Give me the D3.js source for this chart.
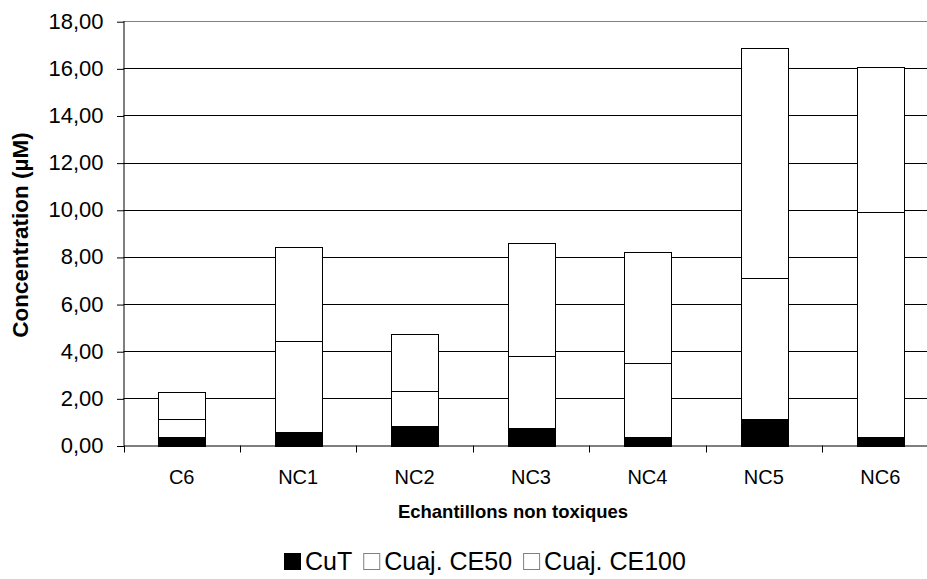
<!DOCTYPE html>
<html>
<head>
<meta charset="utf-8">
<script src="https://cdn.jsdelivr.net/npm/d3@7"></script>
<style>
  html, body { margin: 0; padding: 0; background: #fff; }
  svg { display: block; font-family: "Liberation Sans", Arial, sans-serif; }
</style>
</head>
<body>
<svg id="chart" width="927" height="579"></svg>
<script>
const categories = ["C6", "NC1", "NC2", "NC3", "NC4", "NC5", "NC6"];
const seriesNames = ["CuT", "Cuaj. CE50", "Cuaj. CE100"];
const cuT      = [0.35, 0.57, 0.82, 0.74, 0.38, 1.12, 0.34];
const cuajCE50 = [0.76, 3.88, 1.50, 3.06, 3.11, 5.98, 9.56];
const cuajCE100= [1.18, 3.98, 2.42, 4.80, 4.74, 9.75, 6.17];
const yTicks = [0, 2, 4, 6, 8, 10, 12, 14, 16, 18];
const seriesFill = ["#000000", "#ffffff", "#ffffff"];

const svg = d3.select("#chart");
const pLeft = 123.5, pRight = 938.5, pTop = 21.2, pBottom = 445.5;

const x = d3.scaleBand().domain(categories).range([pLeft, pRight])
  .paddingInner(0.6).paddingOuter(0.3);
const y = d3.scaleLinear().domain([0, 18]).range([pBottom, pTop]);

const rows = categories.map((c, i) => ({cat: c, s0: cuT[i], s1: cuajCE50[i], s2: cuajCE100[i]}));
const stacked = d3.stack().keys(["s0", "s1", "s2"])(rows);

// gridlines
svg.append("g").selectAll("line").data(yTicks.filter(d => d > 0)).join("line")
  .attr("x1", pLeft).attr("x2", pRight)
  .attr("y1", d => Math.round(y(d)) + 0.5).attr("y2", d => Math.round(y(d)) + 0.5)
  .attr("stroke", d => d === 18 ? "#808080" : "#000").attr("stroke-width", 1);

// bars
svg.append("g").selectAll("g").data(stacked).join("g")
  .attr("fill", (d, i) => seriesFill[i])
  .selectAll("rect").data(d => d).join("rect")
  .attr("x", d => Math.round(x(d.data.cat)) + 0.5)
  .attr("y", d => Math.round(y(d[1])) + 0.5)
  .attr("width", Math.round(x.bandwidth()))
  .attr("height", d => Math.max(0, Math.round(y(d[0])) - Math.round(y(d[1]))))
  .attr("stroke", "#000").attr("stroke-width", 1);

// y axis
const yAxis = d3.axisLeft(y).tickValues(yTicks).tickSize(7).tickPadding(13)
  .tickFormat(d => d3.format(".2f")(d).replace(".", ","));
const gy = svg.append("g").attr("transform", `translate(${pLeft},0)`).call(yAxis);
gy.select(".domain").attr("d", `M0.5,${pTop}V${pBottom}`).attr("stroke", "#000");
gy.selectAll(".tick line").attr("stroke", "#000").attr("transform", "translate(0.5,0.5)");
gy.selectAll(".tick text").attr("font-size", 22).attr("fill", "#000")
  .attr("font-family", "Liberation Sans, Arial, sans-serif");

// x axis
const gx = svg.append("g").attr("transform", `translate(0,${pBottom})`);
gx.append("line").attr("x1", pLeft).attr("x2", pRight).attr("y1", 0.5).attr("y2", 0.5).attr("stroke", "#000");
const step = x.step();
const bounds = d3.range(categories.length + 1).map(i => pLeft + i * step);
gx.selectAll("line.tk").data(bounds).join("line").attr("class", "tk")
  .attr("x1", d => Math.round(d) + 0.5).attr("x2", d => Math.round(d) + 0.5)
  .attr("y1", 0).attr("y2", 7).attr("stroke", "#000");
gx.selectAll("text").data(categories).join("text")
  .attr("x", d => x(d) + x.bandwidth() / 2).attr("y", 38)
  .attr("text-anchor", "middle").attr("font-size", 20).attr("fill", "#000")
  .text(d => d);

// axis titles
svg.append("text").attr("x", 513).attr("y", 518).attr("text-anchor", "middle")
  .attr("font-size", 18.5).attr("font-weight", "bold").text("Echantillons non toxiques");
svg.append("text").attr("transform", "translate(28,235) rotate(-90)").attr("text-anchor", "middle")
  .attr("font-size", 22.5).attr("font-weight", "bold").text("Concentration (µM)");

// legend
const lg = svg.append("g");
let lx = 284;
const ly = 570;
seriesNames.forEach((name, i) => {
  lg.append("rect").attr("x", lx + 0.5).attr("y", ly - 17 + 0.5).attr("width", 16).attr("height", 16)
    .attr("fill", seriesFill[i]).attr("stroke", i === 0 ? "#000" : "#808080");
  const t = lg.append("text").attr("x", lx + 21).attr("y", ly).attr("font-size", 25).attr("fill", "#000").text(name);
  lx += 21 + t.node().getComputedTextLength() + 11;
});
</script>
</body>
</html>
